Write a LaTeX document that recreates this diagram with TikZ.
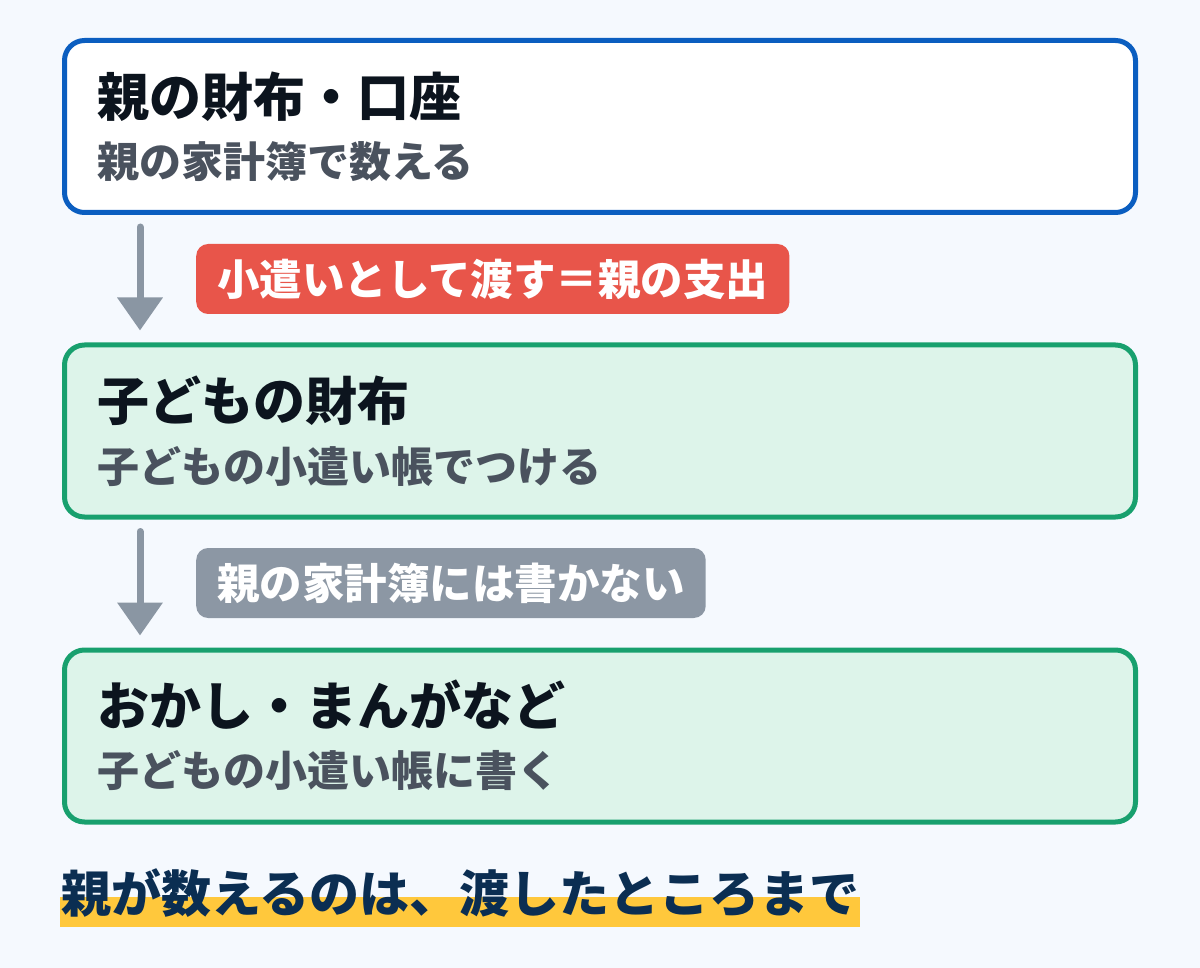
\documentclass[tikz,border=0pt]{standalone}
\usepackage{fontspec}
\setmainfont{Noto Sans CJK JP}
\usetikzlibrary{arrows.meta}
\definecolor{pagebg}{HTML}{F5F9FE}
\definecolor{parentblue}{HTML}{0B5EC0}
\definecolor{kidgreen}{HTML}{18A06E}
\definecolor{kidfill}{HTML}{DDF4EA}
\definecolor{titleink}{HTML}{0C141E}
\definecolor{subink}{HTML}{4A525E}
\definecolor{spendred}{HTML}{E8554A}
\definecolor{arrowgray}{HTML}{8A96A3}
\definecolor{notegray}{HTML}{8C97A4}
\definecolor{noteink}{HTML}{0B2E52}
\definecolor{marker}{HTML}{FFC83C}

\begin{document}
\begin{tikzpicture}[x=1pt, y=-1pt, frame/.style={draw, rounded corners=20pt, line width=5pt, minimum width=1071pt, minimum height=172pt}, top/.style={frame, draw=parentblue, fill=white}, kid/.style={frame, draw=kidgreen, fill=kidfill}, head/.style={anchor=west, inner sep=0pt, text=titleink, font=\bfseries\fontsize{52}{60}\selectfont}, sub/.style={anchor=west, inner sep=0pt, text=subink, font=\bfseries\fontsize{42}{50}\selectfont}, tag/.style={anchor=west, rounded corners=12pt, text=white, inner xsep=21pt, inner ysep=0pt, minimum height=70pt, font=\bfseries\fontsize{42.5}{50}\selectfont}, flow/.style={-{Triangle[length=33pt,width=44pt]}, line width=7pt, line cap=round, draw=arrowgray}]
        \fill[pagebg] (0,0) rectangle (1200,968);
        % boxes
        \node[top] (parent) at (600,126.5) {};
        \node[kid] (child) at (600,431) {};
        \node[kid] (goods) at (600,736) {};
        % texts
        \node[head] (parenthead) at (97,97) {親の財布・口座};
        \node[sub] (parentsub) at (97,162) {親の家計簿で数える};
        \node[head] (childhead) at (97,401) {子どもの財布};
        \node[sub] (childsub) at (97,467) {子どもの小遣い帳でつける};
        \node[head] (goodshead) at (97,705) {おかし・まんがなど};
        \node[sub] (goodssub) at (97,771) {子どもの小遣い帳に書く};
        % labels
        \node[tag, fill=spendred] (spend) at (196,279) {小遣いとして渡す＝親の支出};
        \node[tag, fill=notegray] (skip) at (196,583) {親の家計簿には書かない};
        % edges
        \draw[flow] ([xshift=78pt,yshift=-12pt]parent.south west) -- ([xshift=78pt,yshift=12pt]child.north west);
        \draw[flow] ([xshift=78pt,yshift=-12pt]child.south west) -- ([xshift=78pt,yshift=12pt]goods.north west);
        % note
        \fill[marker] (60,897) rectangle (860,927);
        \node[anchor=west, inner sep=0pt, text=noteink, font=\bfseries\fontsize{50}{60}\selectfont] (note) at (61,893) {親が数えるのは、渡したところまで};
    \end{tikzpicture}
\end{document}
